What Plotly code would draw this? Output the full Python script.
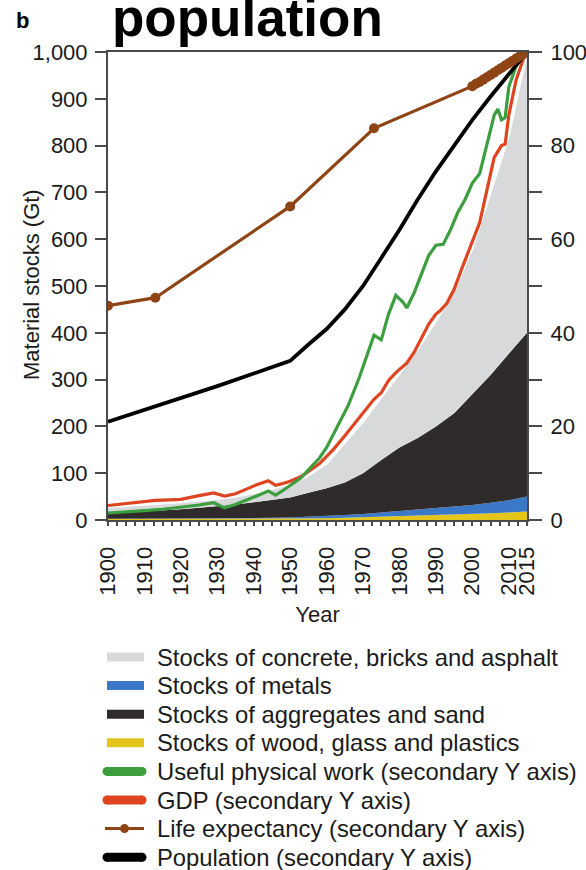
import plotly.graph_objects as go

FONT = "Liberation Sans, Arial, Helvetica, sans-serif"

# ---- material stocks (Gt), stacked bottom to top ----
years_stock = [1900, 1905, 1910, 1915, 1920, 1925, 1930, 1935, 1940, 1945, 1950, 1955,
               1960, 1965, 1970, 1975, 1980, 1985, 1990, 1995, 2000, 2005, 2010, 2015]
wood_glass_plastics = [2.0, 2.1, 2.2, 2.3, 2.4, 2.5, 2.6, 2.7, 2.8, 2.9, 3.0, 3.5,
                       4.0, 5.0, 6.0, 7.0, 8.0, 9.0, 10.0, 11.5, 13.0, 14.5, 16.0, 18.0]
metals = [0.5, 0.5, 0.5, 0.6, 0.6, 0.7, 0.9, 1.0, 1.2, 1.8, 2.5, 3.2,
          4.0, 5.5, 7.0, 9.0, 11.0, 13.0, 15.0, 17.0, 19.0, 22.5, 26.0, 32.0]
aggregates_sand = [11.5, 13.4, 15.3, 17.6, 20.0, 22.8, 25.5, 29.3, 34.0, 38.3, 42.5, 51.3,
                   60.0, 69.5, 87.0, 112.0, 136.0, 153.0, 175.0, 199.5, 238.0, 273.0, 313.0, 350.0]
concrete_bricks_asphalt = [14, 14, 14, 14.5, 15, 15, 16, 17, 19, 23, 28, 37,
                           52, 85, 110, 134, 157, 190, 225, 262, 310, 390, 465, 600]

# ---- secondary axis series (index, 2015 = 100) ----
years_work = [1900, 1905, 1910, 1915, 1920, 1925, 1929, 1932, 1935, 1938, 1941, 1944, 1946,
              1948, 1950, 1953, 1955, 1958, 1960, 1963, 1966, 1969, 1971, 1973, 1975, 1977,
              1979, 1981, 1982, 1984, 1986, 1988, 1990, 1992, 1994, 1996, 1998, 2000, 2002,
              2004, 2006, 2007, 2008, 2009, 2010, 2012, 2014, 2015]
useful_work = [1.5, 1.7, 2.0, 2.3, 2.7, 3.2, 3.7, 2.6, 3.3, 4.2, 5.2, 6.2, 5.3,
               6.3, 7.3, 9.0, 10.7, 13.2, 15.5, 20.0, 24.6, 30.5, 35.0, 39.5, 38.5, 44.0,
               48.0, 46.5, 45.3, 48.5, 52.5, 56.5, 58.7, 58.9, 62.0, 65.7, 68.5, 72.0, 74.0,
               80.5, 86.5, 87.8, 85.5, 86.0, 92.5, 97.0, 99.0, 100.0]

years_gdp = [1900, 1905, 1910, 1913, 1917, 1920, 1925, 1929, 1932, 1935, 1938, 1941, 1944,
             1946, 1948, 1950, 1953, 1956, 1958, 1960, 1962, 1965, 1968, 1970, 1973, 1975,
             1977, 1979, 1980, 1982, 1984, 1986, 1988, 1990, 1991, 1993, 1995, 1997, 2000,
             2002, 2004, 2006, 2008, 2009, 2010, 2012, 2014, 2015]
gdp = [3.1, 3.5, 3.9, 4.2, 4.3, 4.4, 5.2, 5.8, 5.1, 5.6, 6.6, 7.6, 8.4,
       7.4, 7.8, 8.3, 9.3, 10.9, 12.0, 13.6, 15.2, 18.0, 21.0, 22.8, 25.8, 27.2,
       29.8, 31.5, 32.2, 33.5, 35.8, 38.8, 41.8, 44.0, 44.6, 46.3, 49.3, 53.5, 59.5,
       63.5, 70.5, 77.5, 80.0, 80.3, 86.5, 94.0, 98.5, 100.0]

years_life = [1900, 1913, 1950, 1973, 2000, 2001, 2002, 2003, 2004, 2005, 2006, 2007,
              2008, 2009, 2010, 2011, 2012, 2013, 2014, 2015]
life_expectancy = [45.8, 47.5, 67.0, 83.7, 92.7, 93.2, 93.6, 94.1, 94.6, 95.1, 95.6, 96.1,
                   96.6, 97.1, 97.6, 98.1, 98.6, 99.1, 99.6, 100.0]

years_pop = [1900, 1910, 1920, 1930, 1940, 1950, 1955, 1960, 1965, 1970, 1975, 1980,
             1985, 1990, 1995, 2000, 2005, 2010, 2015]
population = [21.0, 23.5, 26.0, 28.6, 31.3, 34.0, 37.5, 40.8, 45.0, 50.0, 56.0, 62.0,
              68.5, 74.5, 80.0, 85.5, 90.5, 95.3, 100.0]

year_ticks = [1900, 1910, 1920, 1930, 1940, 1950, 1960, 1970, 1980, 1990, 2000, 2010, 2015]

# colours
C_CONCRETE = "#d8d9da"
C_METALS = "#3b78c8"
C_AGGREGATES = "#2f2b2a"
C_WOOD = "#e3c51c"
C_WORK = "#3c9e3f"
C_GDP = "#de4420"
C_LIFE = "#8e4414"
C_POP = "#000000"

# figure geometry (pixels)
W, H = 586, 870
ML, MR, MT, MB = 108, 59, 52, 350
PW, PH = W - ML - MR, H - MT - MB


def px_x(px):
    return (px - ML) / PW


def px_y(py):
    return (H - MB - py) / PH


fig = go.Figure()

# stacked areas, drawn from the bottom layer upwards
stack_layers = [
    (wood_glass_plastics, C_WOOD, False),
    (metals, C_METALS, False),
    (aggregates_sand, C_AGGREGATES, False),
    (concrete_bricks_asphalt, C_CONCRETE, True),
]
for vals, color, top_layer in stack_layers:
    fig.add_trace(go.Scatter(
        x=years_stock, y=vals, mode="lines", stackgroup="stocks", fillcolor=color,
        line=dict(width=2 if top_layer else 0, color="white" if top_layer else color),
        showlegend=False, hoverinfo="skip", yaxis="y",
    ))

fig.add_trace(go.Scatter(x=years_gdp, y=gdp, mode="lines", showlegend=False,
                         line=dict(color=C_GDP, width=3.2), yaxis="y2"))
fig.add_trace(go.Scatter(x=years_work, y=useful_work, mode="lines", showlegend=False,
                         line=dict(color=C_WORK, width=3.2), yaxis="y2"))
fig.add_trace(go.Scatter(x=years_pop, y=population, mode="lines", showlegend=False,
                         line=dict(color=C_POP, width=3.8), yaxis="y2"))
fig.add_trace(go.Scatter(x=years_life, y=life_expectancy, mode="lines+markers",
                         showlegend=False, line=dict(color=C_LIFE, width=3.2),
                         marker=dict(color=C_LIFE, size=10), yaxis="y2"))

axis_col = "#4a4a4a"
fig.update_layout(
    width=W, height=H,
    margin=dict(l=ML, r=MR, t=MT, b=MB, autoexpand=False),
    paper_bgcolor="white", plot_bgcolor="white",
    font=dict(family=FONT, size=22, color="#1a1a1a"),
    showlegend=False,
    xaxis=dict(
        range=[1900, 2015], tickmode="array", tickvals=year_ticks,
        ticktext=[str(y) for y in year_ticks], tickangle=-90,
        ticks="outside", ticklen=4, tickwidth=1.5, tickcolor=axis_col,
        minor=dict(dtick=2.5, tick0=1900, ticks="outside", ticklen=4, tickwidth=1.5,
                   tickcolor=axis_col, showgrid=False),
        showline=True, linecolor=axis_col, linewidth=2, mirror=True,
        showgrid=False, zeroline=False, ticklabelstandoff=12, automargin=False,
        title=dict(text="Year", font=dict(size=22), standoff=12),
    ),
    yaxis=dict(
        range=[0, 1000], dtick=100, tickformat=",d",
        ticks="outside", ticklen=11, tickwidth=1.5, tickcolor=axis_col,
        showline=True, linecolor=axis_col, linewidth=2, automargin=False,
        showgrid=False, zeroline=False, ticklabelstandoff=3,
    ),
    yaxis2=dict(
        range=[0, 100], dtick=20, overlaying="y", side="right",
        ticks="outside", ticklen=13, tickwidth=1.5, tickcolor=axis_col,
        minor=dict(dtick=10, ticks="outside", ticklen=13, tickwidth=1.5,
                   tickcolor=axis_col, showgrid=False),
        showline=True, linecolor=axis_col, linewidth=2, automargin=False,
        showgrid=False, zeroline=False, ticklabelstandoff=4,
    ),
)

# ---- legend, laid out by hand below the axes ----
legend_rows = [
    ("Stocks of concrete, bricks and asphalt", "area", C_CONCRETE),
    ("Stocks of metals", "area", C_METALS),
    ("Stocks of aggregates and sand", "area", C_AGGREGATES),
    ("Stocks of wood, glass and plastics", "area", C_WOOD),
    ("Useful physical work (secondary Y axis)", "thick", C_WORK),
    ("GDP (secondary Y axis)", "thick", C_GDP),
    ("Life expectancy (secondary Y axis)", "marker", C_LIFE),
    ("Population (secondary Y axis)", "thick", C_POP),
]
row0, row_step = 657, 28.6
shapes = []
for i, (label, kind, color) in enumerate(legend_rows):
    cy = row0 + i * row_step
    if kind == "area":
        shapes.append(dict(type="rect", xref="paper", yref="paper",
                           x0=px_x(107), x1=px_x(144), y0=px_y(cy + 4.5), y1=px_y(cy - 4.5),
                           fillcolor=color, line=dict(width=0)))
    elif kind == "thick":
        shapes.append(dict(type="rect", xref="paper", yref="paper",
                           x0=px_x(107), x1=px_x(142), y0=px_y(cy + 4.5), y1=px_y(cy - 4.5),
                           fillcolor=color, line=dict(width=0)))
        for cx in (107, 142):
            shapes.append(dict(type="circle", xref="paper", yref="paper",
                               x0=px_x(cx - 4.5), x1=px_x(cx + 4.5),
                               y0=px_y(cy + 4.5), y1=px_y(cy - 4.5),
                               fillcolor=color, line=dict(width=0)))
    else:
        shapes.append(dict(type="line", xref="paper", yref="paper",
                           x0=px_x(105), x1=px_x(144), y0=px_y(cy), y1=px_y(cy),
                           line=dict(color=color, width=3)))
        shapes.append(dict(type="circle", xref="paper", yref="paper",
                           x0=px_x(124.5 - 4.5), x1=px_x(124.5 + 4.5),
                           y0=px_y(cy + 4.5), y1=px_y(cy - 4.5),
                           fillcolor=color, line=dict(width=0)))
    fig.add_annotation(text=label, showarrow=False, xref="paper", yref="paper",
                       x=px_x(155), y=px_y(cy), xanchor="left", yanchor="middle",
                       font=dict(size=23.8, color="#1a1a1a"))
fig.update_layout(shapes=shapes)

fig.add_annotation(
    text="Material stocks (Gt)", textangle=-90, showarrow=False,
    xref="paper", yref="paper", x=px_x(31), y=px_y(285), xanchor="center", yanchor="middle",
    font=dict(size=22),
)
fig.add_annotation(
    text="<b>population</b>", showarrow=False, xref="paper", yref="paper",
    x=px_x(110), y=1.0, xanchor="left", yanchor="bottom", yshift=3,
    font=dict(size=53, family=FONT, color="black"),
)
fig.add_annotation(
    text="<b>b</b>", showarrow=False, xref="paper", yref="paper",
    x=px_x(22), y=px_y(20), xanchor="center", yanchor="middle",
    font=dict(size=22, color="black"),
)
fig.add_annotation(
    text="Index, secondary Y axis (2015 = 100)", textangle=-90, showarrow=False,
    xref="paper", yref="paper", x=px_x(597), y=px_y(300), xanchor="center", yanchor="middle",
    font=dict(size=20, color="#777777"),
)

fig.write_html("out.html")
